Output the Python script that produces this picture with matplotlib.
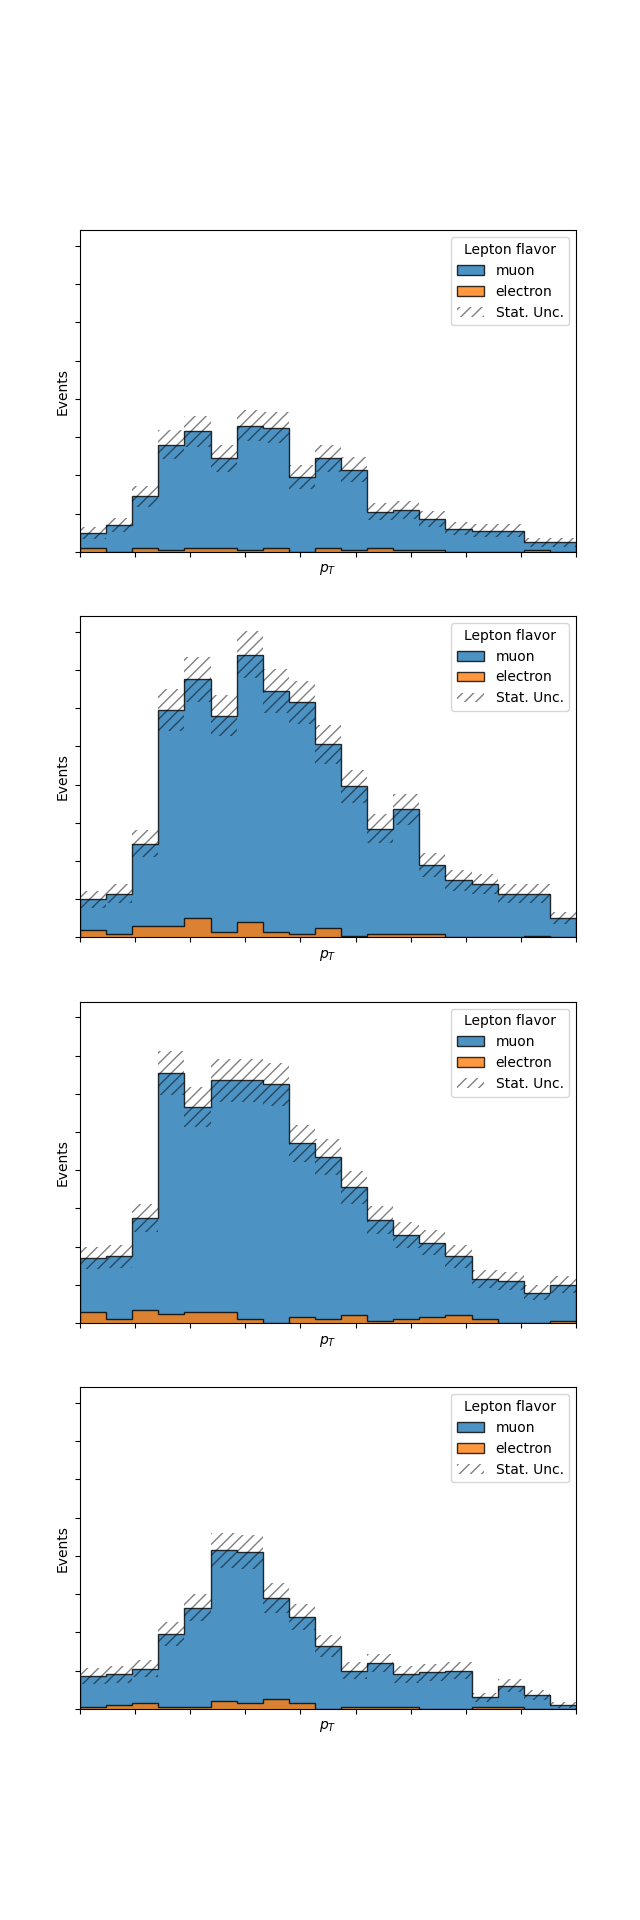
import matplotlib

matplotlib.use("Agg")
import matplotlib.pyplot as plt
import numpy as np
from matplotlib.ticker import MultipleLocator

# 19 equal pT bins, shared by every panel
pt_edges = np.linspace(0, 180, 20)

# event counts per bin, one pair of arrays per panel
muon_1 = [8, 14, 27, 55, 61, 47, 65, 63, 39, 47, 42, 19, 21, 16, 12, 11, 11, 4, 5]
electron_1 = [2, 0, 2, 1, 2, 2, 1, 2, 0, 2, 1, 2, 1, 1, 0, 0, 0, 1, 0]

muon_2 = [16, 21, 43, 113, 125, 113, 140, 126, 121, 96, 78, 55, 65, 36, 30, 28, 23, 22, 10]
electron_2 = [4, 2, 6, 6, 10, 3, 8, 3, 2, 5, 1, 2, 2, 2, 0, 0, 0, 1, 0]

muon_3 = [28, 33, 48, 126, 107, 121, 125, 125, 91, 85, 67, 53, 44, 39, 31, 21, 22, 16, 19]
electron_3 = [6, 2, 7, 5, 6, 6, 2, 0, 3, 2, 4, 1, 2, 3, 4, 2, 0, 0, 1]

muon_4 = [16, 16, 18, 38, 52, 79, 79, 53, 45, 33, 19, 23, 17, 19, 20, 5, 11, 7, 2]
electron_4 = [1, 2, 3, 1, 1, 4, 3, 5, 3, 0, 1, 1, 1, 0, 0, 1, 1, 0, 0]

MUON_COLOR = "#1f77b4"
ELECTRON_COLOR = "#ff7f0e"
UNC_COLOR = (0, 0, 0, 0.5)


def draw_panel(ax, muon, electron):
    muon = np.asarray(muon, dtype=float)
    electron = np.asarray(electron, dtype=float)
    total = muon + electron
    unc = np.sqrt(total)

    h_mu = ax.stairs(
        total, pt_edges, fill=True, facecolor=MUON_COLOR,
        edgecolor="black", linewidth=1.0, alpha=0.8, label="muon",
    )
    h_el = ax.stairs(
        electron, pt_edges, fill=True, facecolor=ELECTRON_COLOR,
        edgecolor="black", linewidth=1.0, alpha=0.8, label="electron",
    )
    h_unc = ax.stairs(
        total + unc, pt_edges, baseline=total - unc, fill=True,
        facecolor="none", edgecolor=UNC_COLOR, hatch="///",
        linewidth=0, label="Stat. Unc.",
    )

    ax.set_xlim(pt_edges[0], pt_edges[-1])
    ax.xaxis.set_major_locator(MultipleLocator(20))
    ax.yaxis.set_major_locator(MultipleLocator(20))
    ax.tick_params(labelbottom=False, labelleft=False)
    ax.set_xlabel("$p_T$")
    ax.set_ylabel("Events")
    ax.legend(handles=[h_mu, h_el, h_unc], title="Lepton flavor", loc="upper right")
    return (total + unc).max()


panels = [
    (muon_1, electron_1),
    (muon_2, electron_2),
    (muon_3, electron_3),
    (muon_4, electron_4),
]

fig, axes = plt.subplots(4, 1, figsize=(6.4, 19.2), dpi=100)
ymax = 0
for ax, (muon, electron) in zip(axes, panels):
    ymax = max(ymax, draw_panel(ax, muon, electron))

for ax in axes:
    ax.set_ylim(0, ymax * 1.05)

fig.savefig("out.png", dpi=100)
plt.close(fig)
